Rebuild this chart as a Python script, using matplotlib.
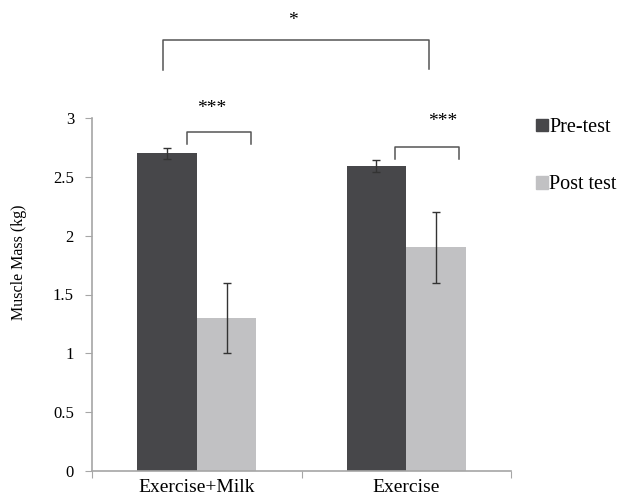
import matplotlib
matplotlib.use("Agg")
import matplotlib.pyplot as plt
import numpy as np
from matplotlib.patches import Patch

groups = ["Exercise+Milk", "Exercise"]
pre_mean = [2.70, 2.59]
pre_err = [0.045, 0.05]
post_mean = [1.30, 1.90]
post_err = [0.30, 0.30]
series_names = ["Pre-test", "Post test"]
yticks = [0, 0.5, 1, 1.5, 2, 2.5, 3]
ytick_labels = ["0", "0.5", "1", "1.5", "2", "2.5", "3"]

dark = "#47474a"
light = "#c1c1c3"
axis_grey = "#a6a6a6"

plt.rcParams['font.family'] = ['Liberation Serif', 'DejaVu Serif']

fig = plt.figure(figsize=(6.26, 4.99), dpi=100)
ax = fig.add_axes([92/626, 1-471/499, (511-92)/626, (471-118)/499])

x = np.arange(len(groups))
w = 0.285
ax.bar(x - w/2, pre_mean, w, color=dark, yerr=pre_err,
       error_kw=dict(ecolor="#333333", elinewidth=1, capsize=3, capthick=1))
ax.bar(x + w/2, post_mean, w, color=light, yerr=post_err,
       error_kw=dict(ecolor="#333333", elinewidth=1, capsize=3, capthick=1))

ax.set_xlim(-0.5, 1.5)
ax.set_ylim(0, 3)
ax.set_yticks(yticks)
ax.set_yticklabels(ytick_labels, fontsize=12)
ax.set_xticks([-0.5, 0.5, 1.5])
ax.set_xticklabels([])
ax.set_xticks(x, minor=True)
ax.set_xticklabels(groups, minor=True, fontsize=14)
ax.tick_params(axis='x', which='minor', length=0, pad=6)
ax.tick_params(axis='x', which='major', length=5, color=axis_grey, direction='out')
ax.tick_params(axis='y', length=5, color=axis_grey, pad=8)
for s in ['top', 'right']:
    ax.spines[s].set_visible(False)
for s in ['left', 'bottom']:
    ax.spines[s].set_color(axis_grey)
    ax.spines[s].set_linewidth(1.2)
ax.set_ylabel("Muscle Mass (kg)", fontsize=11.5)
ax.yaxis.set_label_coords(-0.155, 0.59)

# significance brackets
br = dict(color="#555555", lw=1.1, clip_on=False)
ax.plot([-0.16, -0.16, 1.11, 1.11], [3.41, 3.66, 3.66, 3.42], **br)
ax.text(0.46, 3.83, "*", ha='center', va='center', fontsize=14, clip_on=False)
ax.plot([-0.045, -0.045, 0.26, 0.26], [2.78, 2.88, 2.88, 2.78], **br)
ax.text(0.07, 3.08, "***", ha='center', va='center', fontsize=14, clip_on=False)
ax.plot([0.945, 0.945, 1.25, 1.25], [2.65, 2.75, 2.75, 2.65], **br)
ax.text(1.175, 2.97, "***", ha='center', va='center', fontsize=14, clip_on=False)

handles = [Patch(color=dark), Patch(color=light)]
fig.legend(handles, series_names, loc='upper left', bbox_to_anchor=(518/626, 1-100/499),
           frameon=False, fontsize=14.5, handlelength=0.6, handleheight=0.6,
           handletextpad=0.05, labelspacing=1.9)

fig.savefig("out.png", dpi=100)
